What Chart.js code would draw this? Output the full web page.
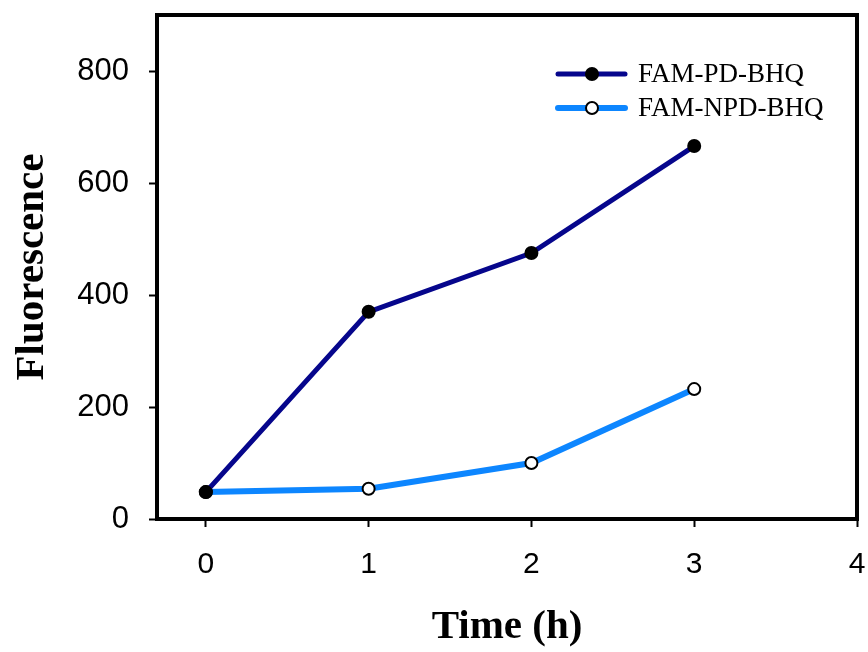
<!DOCTYPE html>
<html>
<head>
<meta charset="utf-8">
<script src="https://cdn.jsdelivr.net/npm/chart.js@4.4.1/dist/chart.umd.min.js"></script>
<style>
    html, body { margin: 0; padding: 0; background: #fff; }
</style>
</head>
<body>
<canvas id="chart" width="868" height="652"></canvas>
<script>
// datos
const horas = [0, 1, 2, 3];
const fluorPD = [48, 370, 475, 666];
const fluorNPD = [48, 54, 100, 232];
const xTicks = [0, 1, 2, 3, 4];
const yTicks = [0, 200, 400, 600, 800];

const serie = vals => horas.map((h, i) => ({ x: h, y: vals[i] }));

// marco negro alrededor del area del grafico
const marco = {
    id: 'marco',
    afterDatasetsDraw(chart) {
        const { ctx, chartArea: a } = chart;
        ctx.save();
        ctx.strokeStyle = '#000';
        ctx.lineWidth = 4;
        ctx.strokeRect(a.left, a.top, a.right - a.left, a.bottom - a.top);
        ctx.restore();
    }
};

// leyenda con linea y marcador en el centro
const leyenda = {
    id: 'leyenda',
    afterDraw(chart) {
        const ctx = chart.ctx;
        const x0 = 558, x1 = 625, ys = [74, 108];
        ctx.save();
        chart.data.datasets.forEach((ds, i) => {
            const y = ys[i];
            ctx.strokeStyle = ds.borderColor;
            ctx.lineWidth = ds.borderWidth;
            ctx.lineCap = 'round';
            ctx.beginPath();
            ctx.moveTo(x0, y);
            ctx.lineTo(x1, y);
            ctx.stroke();
            ctx.beginPath();
            ctx.arc(592, y, ds.pointRadius, 0, Math.PI * 2);
            ctx.fillStyle = ds.pointBackgroundColor;
            ctx.fill();
            ctx.lineWidth = ds.pointBorderWidth;
            ctx.strokeStyle = ds.pointBorderColor;
            ctx.stroke();
            ctx.fillStyle = '#000';
            ctx.font = '27px "Liberation Serif", "Times New Roman", serif';
            ctx.textBaseline = 'middle';
            ctx.fillText(ds.label, 638, y + 1);
        });
        ctx.restore();
    }
};

new Chart(document.getElementById('chart'), {
    type: 'line',
    data: {
        datasets: [{
            label: 'FAM-PD-BHQ',
            data: serie(fluorPD),
            borderColor: '#06068C',
            borderWidth: 5,
            pointRadius: 6,
            pointBackgroundColor: '#000',
            pointBorderColor: '#000',
            pointBorderWidth: 2,
            tension: 0
        }, {
            label: 'FAM-NPD-BHQ',
            data: serie(fluorNPD),
            borderColor: '#0D86FF',
            borderWidth: 6,
            pointRadius: 6,
            pointBackgroundColor: '#fff',
            pointBorderColor: '#000',
            pointBorderWidth: 2,
            tension: 0
        }]
    },
    options: {
        responsive: false,
        animation: false,
        layout: { padding: { left: 0, right: 11, top: 15, bottom: 0 } },
        plugins: {
            legend: { display: false },
            tooltip: { enabled: false }
        },
        scales: {
            x: {
                type: 'linear',
                min: -0.3,
                max: 4,
                afterFit: s => { s.height = 133; s.paddingLeft = 0; s.paddingRight = 0; },
                afterBuildTicks: s => { s.ticks = xTicks.map(v => ({ value: v })); },
                grid: { drawOnChartArea: false, drawTicks: true, tickLength: 8, tickWidth: 2, tickColor: '#000' },
                border: { display: false },
                ticks: {
                    color: '#000',
                    padding: 20,
                    font: { family: '"Liberation Sans", Arial, sans-serif', size: 30 }
                },
                title: {
                    display: true,
                    text: 'Time (h)',
                    color: '#000',
                    padding: { top: 0, bottom: 0 },
                    font: { family: '"Liberation Serif", "Times New Roman", serif', size: 41, weight: 'bold' }
                }
            },
            y: {
                min: 0,
                max: 900,
                afterFit: s => { s.width = 157; s.paddingTop = 0; s.paddingBottom = 0; },
                afterBuildTicks: s => { s.ticks = yTicks.map(v => ({ value: v })); },
                grid: { drawOnChartArea: false, drawTicks: true, tickLength: 8, tickWidth: 2, tickColor: '#000' },
                border: { display: false },
                ticks: {
                    color: '#000',
                    padding: 20,
                    font: { family: '"Liberation Sans", Arial, sans-serif', size: 31 }
                },
                title: {
                    display: true,
                    text: 'Fluorescence',
                    color: '#000',
                    padding: { top: 8, bottom: 0 },
                    font: { family: '"Liberation Serif", "Times New Roman", serif', size: 41, weight: 'bold' }
                }
            }
        }
    },
    plugins: [marco, leyenda]
});
</script>
</body>
</html>
